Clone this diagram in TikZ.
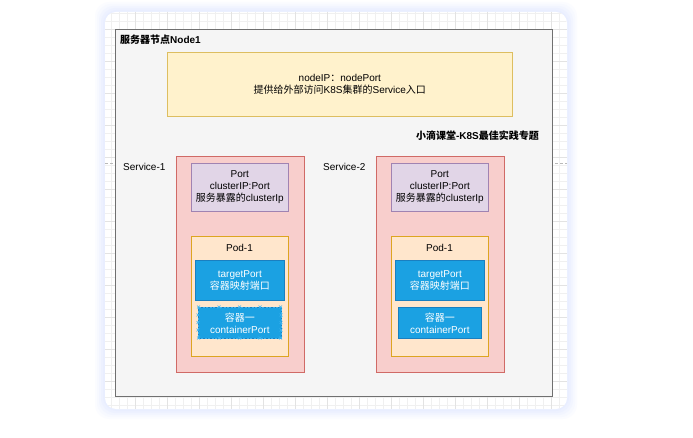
\documentclass[tikz,border=0pt]{standalone}
\usepackage{fontspec}
\setmainfont{Liberation Sans}
\newfontfamily\cjk{Noto Sans CJK SC}
\definecolor{glowc}{HTML}{E4EBFF}
\definecolor{gridmin}{HTML}{F0F0F0}
\definecolor{gridmaj}{HTML}{E3E3E3}
\definecolor{greyf}{HTML}{F5F5F5}
\definecolor{greyd}{HTML}{707070}
\definecolor{yelf}{HTML}{FFF2CC}
\definecolor{yeld}{HTML}{DDBE60}
\definecolor{pinkf}{HTML}{F8CECC}
\definecolor{pinkd}{HTML}{D06A66}
\definecolor{purf}{HTML}{E1D5E7}
\definecolor{purd}{HTML}{A083B2}
\definecolor{podf}{HTML}{FFE6CC}
\definecolor{podd}{HTML}{DDA520}
\definecolor{bluef}{HTML}{1BA1E2}
\definecolor{blued}{HTML}{1A7FC0}
\definecolor{selc}{HTML}{3BB3F0}
\begin{document}
\begin{tikzpicture}[x=1pt,y=-1pt,
  font=\fontsize{10}{12}\selectfont,
  box/.style={draw, line width=0.7pt, inner sep=0pt, anchor=north west, align=center},
  greybox/.style={box, draw=greyd, fill=greyf, line width=1.1pt},
  yelbox/.style={box, draw=yeld, fill=yelf},
  svcbox/.style={box, draw=pinkd, fill=pinkf},
  portbox/.style={box, draw=purd, fill=purf},
  podbox/.style={box, draw=podd, fill=podf},
  bluebox/.style={box, draw=blued, fill=bluef, text=white},
  lbl/.style={inner sep=0pt, align=center},
  selx/.style={draw=selc, line width=0.5pt},
]
\useasboundingbox (0,0) rectangle (693,438);
\fill[white] (0,0) rectangle (693,438);
% card glow
\foreach \i/\o in {10/0.12,8/0.16,6/0.22,4/0.3,2/0.4}
  \fill[glowc, opacity=\o, rounded corners=14] ({105-\i},{12-\i}) rectangle ({567+\i},{409+\i});
\fill[white, rounded corners=11] (105,12) rectangle (567,409);
% grid
\begin{scope}
  \clip[rounded corners=11] (105,12) rectangle (567,409);
  \foreach \x in {111.7,119.7,...,567} \draw[gridmin, line width=0.5pt] (\x,12) -- (\x,409);
  \foreach \y in {13,21,...,409} \draw[gridmin, line width=0.5pt] (105,\y) -- (567,\y);
  \foreach \x in {135.7,167.7,...,567} \draw[gridmaj, line width=0.6pt] (\x,12) -- (\x,409);
  \foreach \y in {29,61,...,409} \draw[gridmaj, line width=0.6pt] (105,\y) -- (567,\y);
  \draw[gray!55, dash pattern=on 3pt off 2pt, line width=0.7pt] (105,163.3) -- (567,163.3);
\end{scope}
% server node
\node (node1) [greybox, minimum width=437pt, minimum height=367pt] at (115,29) {};
\node (title) [lbl, anchor=west, font=\fontsize{10}{12}\selectfont\bfseries] at (120,40) {{\cjk 服务器节点}Node1};
\node (np) [yelbox, minimum width=345pt, minimum height=64pt] at (167,52)
  {nodeIP{\cjk ：}nodePort\\{\cjk 提供给外部访问}K8S{\cjk 集群的}Service{\cjk 入口}};
\node (brand) [lbl, anchor=east, font=\fontsize{10}{12}\selectfont\bfseries] at (539,136)
  {{\cjk 小滴课堂}-K8S{\cjk 最佳实践专题}};
% services
\foreach \n/\dx in {1/0,2/200} {
  \node (svclbl\n) [lbl, anchor=west] at ({123+\dx},167) {Service-\n};
  \node (svc\n) [svcbox, minimum width=128pt, minimum height=216pt] at ({176+\dx},156) {};
  \node (port\n) [portbox, minimum width=97pt, minimum height=48pt] at ({191+\dx},163)
    {Port\\clusterIP:Port\\{\cjk 服务暴露的}clusterIp};
  \node (pod\n) [podbox, minimum width=97pt, minimum height=120pt] at ({191+\dx},236) {};
  \node (podlbl\n) [lbl] at ({239.5+\dx},248) {Pod-1};
  \node (tp\n) [bluebox, minimum width=89pt, minimum height=40pt] at ({195+\dx},260)
    {targetPort\\{\cjk 容器映射端口}};
  \node (ct\n) [bluebox, minimum width=83pt, minimum height=31pt] at ({198+\dx},307)
    {{\cjk 容器一}\\containerPort};
}
% selection marks on first container
\draw[selc, dash pattern=on 2pt off 1.5pt, line width=0.6pt] (ct1.north west) rectangle (ct1.south east);
\foreach \px in {198.5,219,239.5,260,280.5} {
  \foreach \py in {307,338} {
    \draw[selx] ({\px-1.5},{\py-1.5}) -- ({\px+1.5},{\py+1.5}) ({\px-1.5},{\py+1.5}) -- ({\px+1.5},{\py-1.5});
  }
}
\foreach \px in {198,281} {
  \foreach \py in {315,322.5,330} {
    \draw[selx] ({\px-1.5},{\py-1.5}) -- ({\px+1.5},{\py+1.5}) ({\px-1.5},{\py+1.5}) -- ({\px+1.5},{\py-1.5});
  }
}
\end{tikzpicture}
\end{document}
